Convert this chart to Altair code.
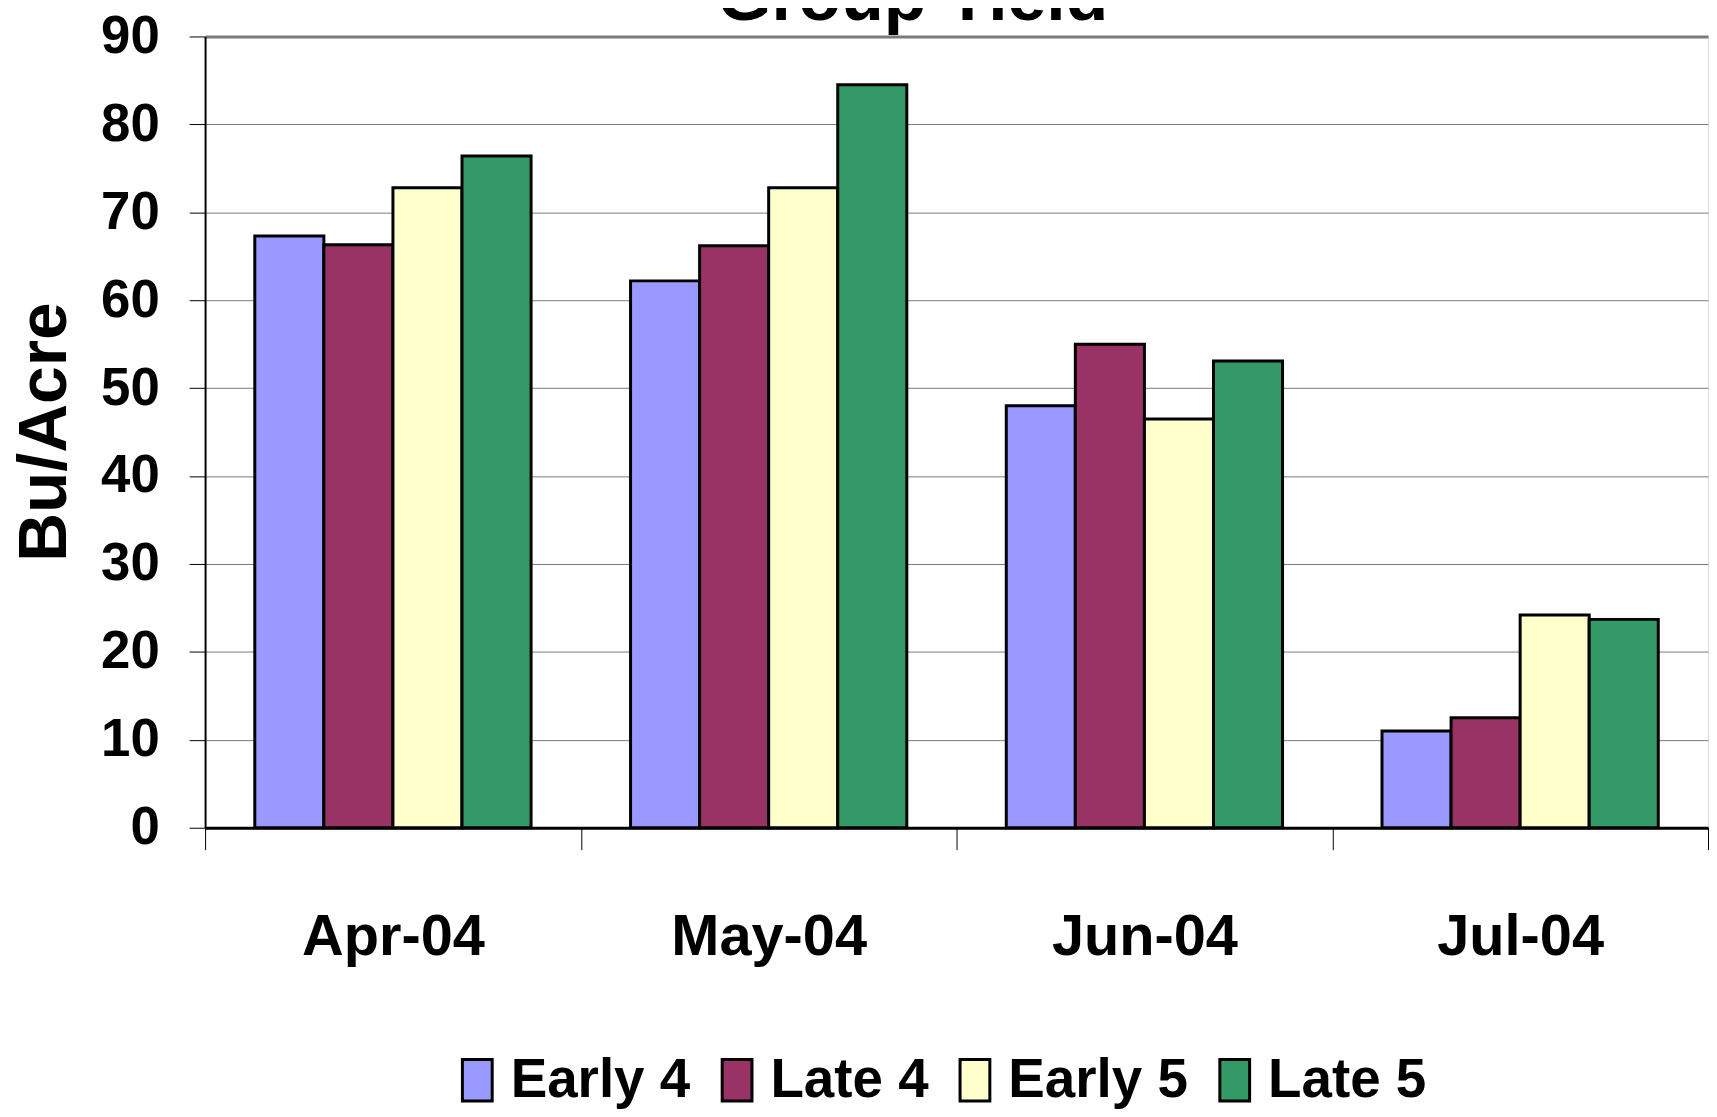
import altair as alt
import pandas as pd

months = ["Apr-04", "May-04", "Jun-04", "Jul-04"]
groups = ["Early 4", "Late 4", "Early 5", "Late 5"]
early4 = [67.3, 62.2, 48.0, 11.0]
late4 = [66.3, 66.2, 55.0, 12.5]
early5 = [72.8, 72.8, 46.5, 24.2]
late5 = [76.4, 84.5, 53.1, 23.7]
colors = ["#9999FF", "#993366", "#FFFFCC", "#339966"]
y_ticks = [0, 10, 20, 30, 40, 50, 60, 70, 80, 90]
chart_title = ["Group Yield"]

rows = []
for g, vals in zip(groups, [early4, late4, early5, late5]):
    for m, v in zip(months, vals):
        rows.append({"month": m, "group": g, "value": v})
df = pd.DataFrame(rows)

FONT = "Liberation Sans, Arial, sans-serif"

bars = alt.Chart(df).mark_bar(stroke="black", strokeWidth=3).encode(
    x=alt.X(
        "month:N", sort=months,
        scale=alt.Scale(paddingInner=0, paddingOuter=0),
        axis=alt.Axis(
            title=None, labelAngle=0, labelFont=FONT, labelFontSize=58,
            labelFontWeight="bold", labelColor="black", labelPadding=59,
            labelLimit=500,
            tickBand="extent", tickSize=22, tickColor="black", tickWidth=1,
            domainColor="black", domainWidth=3, grid=False,
        ),
    ),
    xOffset=alt.XOffset(
        "group:N", sort=groups,
        scale=alt.Scale(paddingInner=0, paddingOuter=0.72),
    ),
    y=alt.Y(
        "value:Q",
        scale=alt.Scale(domain=[0, 90], nice=False),
        axis=alt.Axis(
            values=y_ticks, title="Bu/Acre", titleFont=FONT, titleFontSize=68,
            titleFontWeight="bold", titleColor="black", titleAngle=270,
            titleX=-160, titleY=397, titleAlign="center", titleBaseline="middle",
            labelFont=FONT, labelFontSize=53, labelFontWeight="bold",
            labelColor="black", labelPadding=30, labelBaseline="middle",
            tickSize=16, tickColor="black", tickWidth=1,
            domainColor="black", domainWidth=2,
            grid=True, gridColor="#7a7a7a",
            gridWidth={"condition": {"test": "datum.value == 90", "value": 3}, "value": 1},
        ),
    ),
    color=alt.Color(
        "group:N", sort=groups,
        scale=alt.Scale(domain=groups, range=colors),
        legend=alt.Legend(
            title=None, orient="none", legendX=246, legendY=1021,
            direction="horizontal", padding=0,
            symbolType="M-0.68,-0.95H0.68V0.95H-0.68Z", symbolSize=1936,
            symbolStrokeColor="black", symbolStrokeWidth=3, symbolOpacity=1,
            labelFont=FONT, labelFontSize=55, labelFontWeight="bold",
            labelColor="black", labelOffset=6, columnPadding=19,
            labelLimit=500,
        ),
    ),
)

title_text = alt.Chart(pd.DataFrame({"t": chart_title})).mark_text(
    font=FONT, fontSize=70, fontWeight="bold", color="black",
    align="center", baseline="alphabetic",
).encode(text="t:N", x=alt.value(711), y=alt.value(-17))

chart = alt.layer(bars, title_text).properties(
    width=1510,
    height=795,
    padding={"left": 198, "top": 26, "right": 1, "bottom": 282},
    autosize=alt.AutoSizeParams(type="none"),
).configure_view(fill="#C0C0C0", stroke="transparent").configure(background="white")

chart.save("out.html", embed_options={"renderer": "svg", "actions": False})
